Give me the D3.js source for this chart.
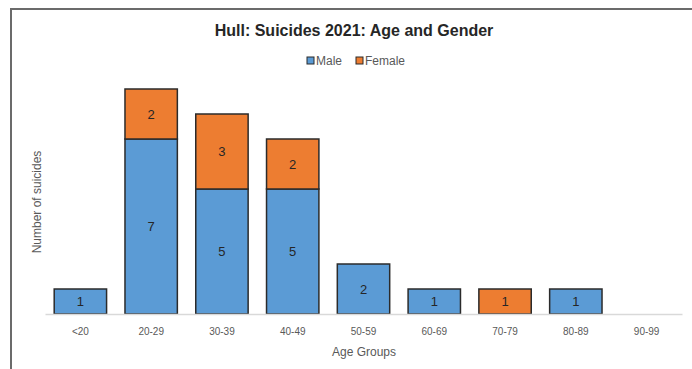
<!DOCTYPE html>
<html>
<head>
<meta charset="utf-8">
<script src="https://cdn.jsdelivr.net/npm/d3@7"></script>
<style>
  body { margin: 0; background: #fff; }
  svg { display: block; font-family: Arial, "Liberation Sans", sans-serif; }
</style>
</head>
<body>
<div id="chart"></div>
<script>
var ageGroups = ["<20", "20-29", "30-39", "40-49", "50-59", "60-69", "70-79", "80-89", "90-99"];
var maleCounts = [1, 7, 5, 5, 2, 1, 0, 1, 0];
var femaleCounts = [0, 2, 3, 2, 0, 0, 1, 0, 0];
var seriesNames = ["Male", "Female"];
var seriesColors = ["#5B9BD5", "#ED7D31"];

var width = 692, height = 369;

var svg = d3.select("#chart").append("svg")
  .attr("width", width)
  .attr("height", height);

// chart frame (only top and left edges visible in the crop)
svg.append("path")
  .attr("d", "M11,369 L11,9 L692,9")
  .attr("fill", "none")
  .attr("stroke", "#6b6b6b")
  .attr("stroke-width", 2);

var rows = ageGroups.map(function (g, i) {
  return { group: g, Male: maleCounts[i], Female: femaleCounts[i] };
});

var x = d3.scaleBand()
  .domain(ageGroups)
  .range([45, 682])
  .paddingInner(0.26)
  .paddingOuter(0.13);

var y = d3.scaleLinear()
  .domain([0, 10])
  .range([314, 64]);

var color = d3.scaleOrdinal().domain(seriesNames).range(seriesColors);

var stacked = d3.stack().keys(seriesNames)(rows);

var layer = svg.append("g")
  .selectAll("g")
  .data(stacked)
  .enter().append("g")
  .attr("fill", function (d) { return color(d.key); });

layer.selectAll("rect")
  .data(function (d) { return d.filter(function (p) { return p[1] - p[0] > 0; }); })
  .enter().append("rect")
  .attr("x", function (d) { return x(d.data.group); })
  .attr("y", function (d) { return y(d[1]); })
  .attr("width", x.bandwidth())
  .attr("height", function (d) { return y(d[0]) - y(d[1]); })
  .attr("stroke", "#2b2b2b")
  .attr("stroke-width", 1.5);

layer.selectAll("text")
  .data(function (d) { return d.filter(function (p) { return p[1] - p[0] > 0; }); })
  .enter().append("text")
  .attr("x", function (d) { return x(d.data.group) + x.bandwidth() / 2; })
  .attr("y", function (d) { return (y(d[0]) + y(d[1])) / 2; })
  .attr("dy", "0.36em")
  .attr("text-anchor", "middle")
  .attr("fill", "#262626")
  .style("font-size", "13px")
  .text(function (d) { return d[1] - d[0]; });

// x axis
var xAxis = svg.append("g")
  .attr("transform", "translate(0,314)")
  .call(d3.axisBottom(x).tickSize(0).tickPadding(14));
xAxis.select(".domain").attr("stroke", "#d9d9d9").attr("stroke-width", 1.5);
xAxis.selectAll("text")
  .attr("fill", "#595959")
  .style("font-family", "'Liberation Sans Narrow', 'Arial Narrow', Arial, sans-serif")
  .style("font-size", "10px");

svg.append("text")
  .attr("x", 364)
  .attr("y", 356)
  .attr("text-anchor", "middle")
  .attr("fill", "#595959")
  .style("font-size", "12px")
  .text("Age Groups");

svg.append("text")
  .attr("transform", "translate(41,202) rotate(-90)")
  .attr("text-anchor", "middle")
  .attr("fill", "#595959")
  .style("font-size", "12px")
  .text("Number of suicides");

// title
svg.append("text")
  .attr("x", 354)
  .attr("y", 36)
  .attr("text-anchor", "middle")
  .attr("fill", "#262626")
  .style("font-size", "16px")
  .style("font-weight", "bold")
  .text("Hull: Suicides 2021: Age and Gender");

// legend
var legend = svg.append("g").attr("transform", "translate(307,61)");
var legendItems = legend.selectAll("g")
  .data(seriesNames)
  .enter().append("g")
  .attr("transform", function (d, i) { return "translate(" + (i * 49) + ",0)"; });
legendItems.append("rect")
  .attr("x", 0).attr("y", -4)
  .attr("width", 7).attr("height", 7)
  .attr("fill", function (d) { return color(d); })
  .attr("stroke", "#2b2b2b").attr("stroke-width", 1);
legendItems.append("text")
  .attr("x", 9)
  .attr("y", 0)
  .attr("dy", "0.35em")
  .attr("fill", "#595959")
  .style("font-size", "12px")
  .text(function (d) { return d; });
</script>
</body>
</html>
